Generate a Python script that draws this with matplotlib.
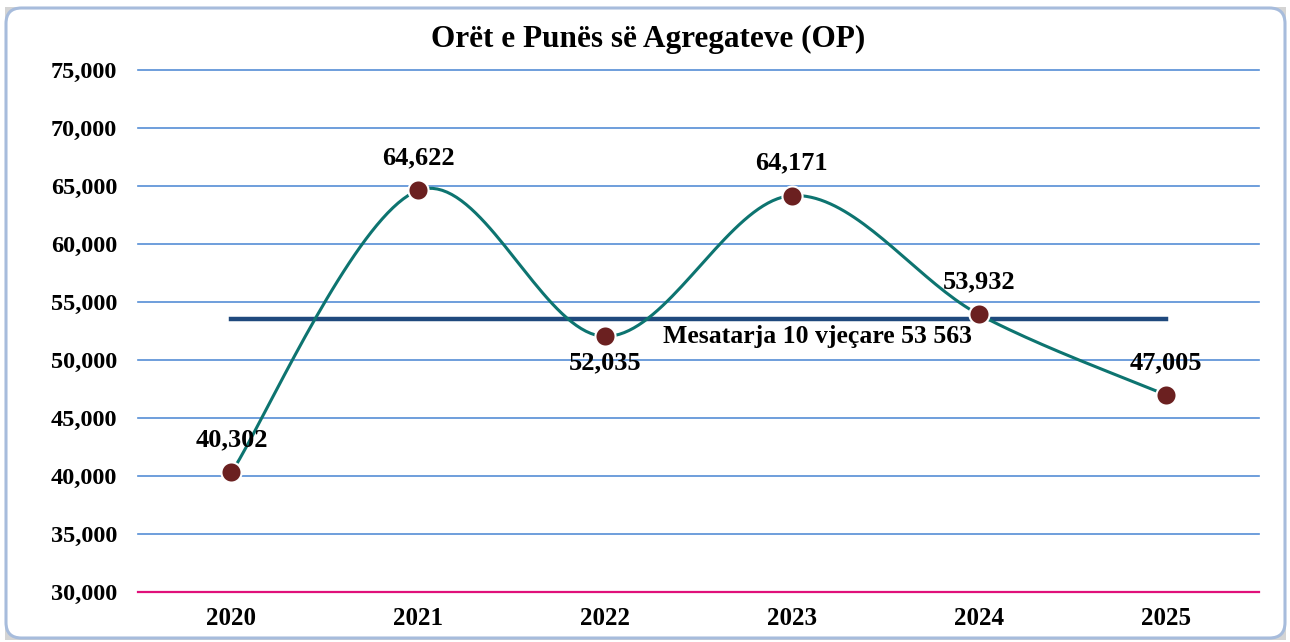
import matplotlib
matplotlib.use("Agg")
import matplotlib.pyplot as plt
import numpy as np
from matplotlib.patches import FancyBboxPatch, Rectangle

# data
years = ["2020", "2021", "2022", "2023", "2024", "2025"]
hours = [40302, 64622, 52035, 64171, 53932, 47005]
label_below = [False, False, True, False, False, False]
avg_value = 53563
avg_label = "Mesatarja 10 vjeçare 53 563"
title = "Orët e Punës së Agregateve (OP)"
yticks = [30000, 35000, 40000, 45000, 50000, 55000, 60000, 65000, 70000, 75000]

plt.rcParams['font.family'] = ['Liberation Serif', 'DejaVu Serif']
plt.rcParams['font.weight'] = 'bold'


def smooth(xs, ys, n=40):
    # excel-like smoothed line (bezier with catmull-rom control points)
    xs = np.asarray(xs, float)
    ys = np.asarray(ys, float)
    px = np.concatenate([[xs[0]], xs, [xs[-1]]])
    py = np.concatenate([[ys[0]], ys, [ys[-1]]])
    outx, outy = [], []
    t = np.linspace(0, 1, n)
    for i in range(1, len(px) - 2):
        p0 = np.array([px[i], py[i]])
        p3 = np.array([px[i + 1], py[i + 1]])
        c1 = p0 + (np.array([px[i + 1], py[i + 1]]) - np.array([px[i - 1], py[i - 1]])) / 6
        c2 = p3 - (np.array([px[i + 2], py[i + 2]]) - np.array([px[i], py[i]])) / 6
        b = ((1 - t) ** 3)[:, None] * p0 + (3 * (1 - t) ** 2 * t)[:, None] * c1 \
            + (3 * (1 - t) * t ** 2)[:, None] * c2 + (t ** 3)[:, None] * p3
        outx.extend(b[:, 0])
        outy.extend(b[:, 1])
    return np.array(outx), np.array(outy)


fig = plt.figure(figsize=(12.9, 6.42), dpi=100)
fig.patch.set_facecolor('white')

# rounded chart frame
fig.patches.append(Rectangle((5 / 1290, 2 / 642), 1281 / 1290, 633 / 642, transform=fig.transFigure,
                             facecolor='#d4d4d4', edgecolor='none', zorder=-3))
fig.patches.append(FancyBboxPatch((6 / 1290, 4 / 642), 1279 / 1290, 630 / 642,
                                  boxstyle="round,pad=0,rounding_size=0.012",
                                  mutation_aspect=1290 / 642,
                                  transform=fig.transFigure, facecolor='white',
                                  edgecolor='#a7bcdc', linewidth=2.2, zorder=-2))

ax = fig.add_axes([138 / 1290, 1 - 592 / 642, 1121 / 1290, 522 / 642])
ax.set_facecolor('none')
ax.set_zorder(1)
x = np.arange(len(years))

ax.set_xlim(-0.5, len(years) - 0.5)
ax.set_ylim(yticks[0], yticks[-1])
ax.set_yticks(yticks)
ax.set_yticklabels([f"{v:,}" for v in yticks], fontsize=17.5, fontweight='bold')
ax.set_xticks(x)
ax.set_xticklabels(years, fontsize=18, fontweight='bold')
ax.tick_params(axis='y', length=0, pad=15)
ax.tick_params(axis='x', length=0, pad=11)
for s in ax.spines.values():
    s.set_visible(False)

for v in yticks[1:]:
    ax.axhline(v, color='#558ed5', linewidth=1.2, zorder=1, clip_on=False)
ax.axhline(yticks[0], color='#e0107a', linewidth=1.6, zorder=1, clip_on=False)

# 10 year average
ax.plot([x[0], x[-1]], [avg_value, avg_value], color='#1f497d', linewidth=3.2, zorder=2)
ax.text(2.31, avg_value - 550, avg_label, fontsize=18.5, fontweight='bold',
        ha='left', va='top', zorder=5)

sx, sy = smooth(x, hours)
ax.plot(sx, sy, color='#0d7470', linewidth=2.2, zorder=3)
ax.plot(x, hours, linestyle='none', marker='o', markersize=14.5,
        markerfacecolor='#6b2020', markeredgecolor='white', markeredgewidth=1.5, zorder=4)

for xi, v, below in zip(x, hours, label_below):
    if below:
        ax.annotate(f"{v:,}", (xi, v), xytext=(0, -11), textcoords='offset points',
                    ha='center', va='top', fontsize=19, fontweight='bold')
    else:
        ax.annotate(f"{v:,}", (xi, v), xytext=(0, 15), textcoords='offset points',
                    ha='center', va='bottom', fontsize=19, fontweight='bold')

fig.text(648 / 1290, 1 - 39 / 642, title, ha='center', va='center',
         fontsize=22.5, fontweight='bold')

fig.savefig("out.png", dpi=100)
